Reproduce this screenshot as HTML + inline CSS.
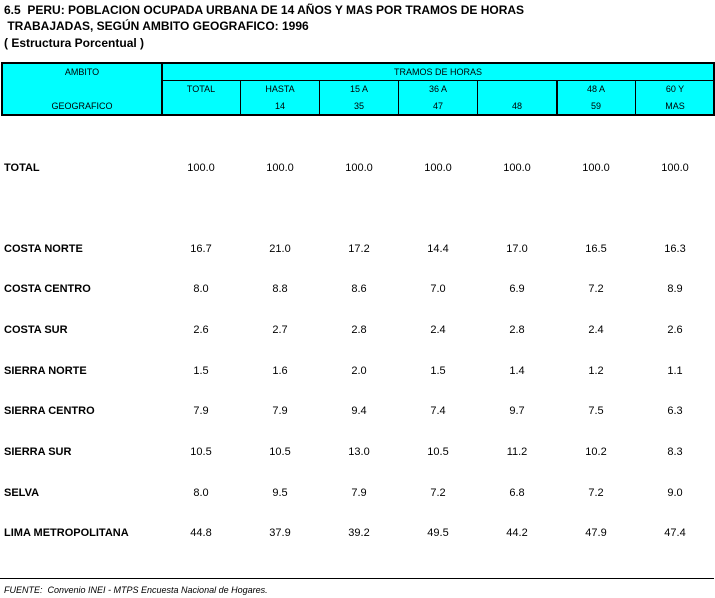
<!DOCTYPE html>
<html><head><style>
body{margin:0;width:715px;height:598px;background:#fff;position:relative;font-family:"Liberation Sans",Arial,sans-serif;color:#000;overflow:hidden}
.t{position:absolute;white-space:nowrap;line-height:1}
.b{font-weight:bold}
.h{font-size:9px}
.c{transform:translateX(-50%)}
.d{font-size:11px}
.ln{position:absolute;background:#000}
</style></head><body>
<div class="t b" style="left:4px;top:4px;font-size:12px">6.5&nbsp; PERU: POBLACION OCUPADA URBANA DE 14 AÑOS Y MAS POR TRAMOS DE HORAS</div>
<div class="t b" style="left:4px;top:20px;font-size:12px">&nbsp;TRABAJADAS, SEGÚN AMBITO GEOGRAFICO: 1996</div>
<div class="t b" style="left:4px;top:37px;font-size:12px">( Estructura Porcentual )</div>

<div style="position:absolute;left:1px;top:63px;width:713px;height:52px;background:#00ffff"></div>
<div class="ln" style="left:1px;top:62px;width:714px;height:2px"></div>
<div class="ln" style="left:1px;top:114px;width:714px;height:2px"></div>
<div class="ln" style="left:1px;top:62px;width:2px;height:54px"></div>
<div class="ln" style="left:713px;top:62px;width:2px;height:54px"></div>
<div class="ln" style="left:161px;top:62px;width:2px;height:54px"></div>
<div class="ln" style="left:162px;top:80px;width:552px;height:1px"></div>
<div class="ln" style="left:240px;top:80px;width:1px;height:35px"></div>
<div class="ln" style="left:319px;top:80px;width:1px;height:35px"></div>
<div class="ln" style="left:398px;top:80px;width:1px;height:35px"></div>
<div class="ln" style="left:477px;top:80px;width:1px;height:35px"></div>
<div class="ln" style="left:556px;top:80px;width:2px;height:35px"></div>
<div class="ln" style="left:635px;top:80px;width:1px;height:35px"></div>

<div class="t h c" style="left:82px;top:68px">AMBITO</div>
<div class="t h c" style="left:82px;top:102px">GEOGRAFICO</div>
<div class="t h c" style="left:438px;top:68px">TRAMOS DE HORAS</div>
<div class="t h c" style="left:201px;top:85px">TOTAL</div>
<div class="t h c" style="left:280px;top:85px">HASTA</div>
<div class="t h c" style="left:280px;top:102px">14</div>
<div class="t h c" style="left:359px;top:85px">15 A</div>
<div class="t h c" style="left:359px;top:102px">35</div>
<div class="t h c" style="left:438px;top:85px">36 A</div>
<div class="t h c" style="left:438px;top:102px">47</div>
<div class="t h c" style="left:517px;top:102px">48</div>
<div class="t h c" style="left:596px;top:85px">48 A</div>
<div class="t h c" style="left:596px;top:102px">59</div>
<div class="t h c" style="left:675px;top:85px">60 Y</div>
<div class="t h c" style="left:675px;top:102px">MAS</div>

<div id="rows"></div>
<script>
var rows=[["TOTAL",163,["100.0","100.0","100.0","100.0","100.0","100.0","100.0"]],
["COSTA NORTE",244,["16.7","21.0","17.2","14.4","17.0","16.5","16.3"]],
["COSTA CENTRO",284,["8.0","8.8","8.6","7.0","6.9","7.2","8.9"]],
["COSTA SUR",325,["2.6","2.7","2.8","2.4","2.8","2.4","2.6"]],
["SIERRA NORTE",366,["1.5","1.6","2.0","1.5","1.4","1.2","1.1"]],
["SIERRA CENTRO",406,["7.9","7.9","9.4","7.4","9.7","7.5","6.3"]],
["SIERRA SUR",447,["10.5","10.5","13.0","10.5","11.2","10.2","8.3"]],
["SELVA",488,["8.0","9.5","7.9","7.2","6.8","7.2","9.0"]],
["LIMA METROPOLITANA",528,["44.8","37.9","39.2","49.5","44.2","47.9","47.4"]]];
var cx=[201,280,359,438,517,596,675],h="";
rows.forEach(function(r){
h+='<div class="t b d" style="left:4px;top:'+r[1]+'px">'+r[0]+'</div>';
r[2].forEach(function(v,i){h+='<div class="t d c" style="left:'+cx[i]+'px;top:'+r[1]+'px">'+v+'</div>';});
});
document.getElementById("rows").innerHTML=h;
</script>
<div class="ln" style="left:0;top:578px;width:714px;height:1px"></div>
<div class="t" style="left:4px;top:586px;font-size:9px;font-style:italic">FUENTE:&nbsp; Convenio INEI - MTPS Encuesta Nacional de Hogares.</div>
</body></html>
